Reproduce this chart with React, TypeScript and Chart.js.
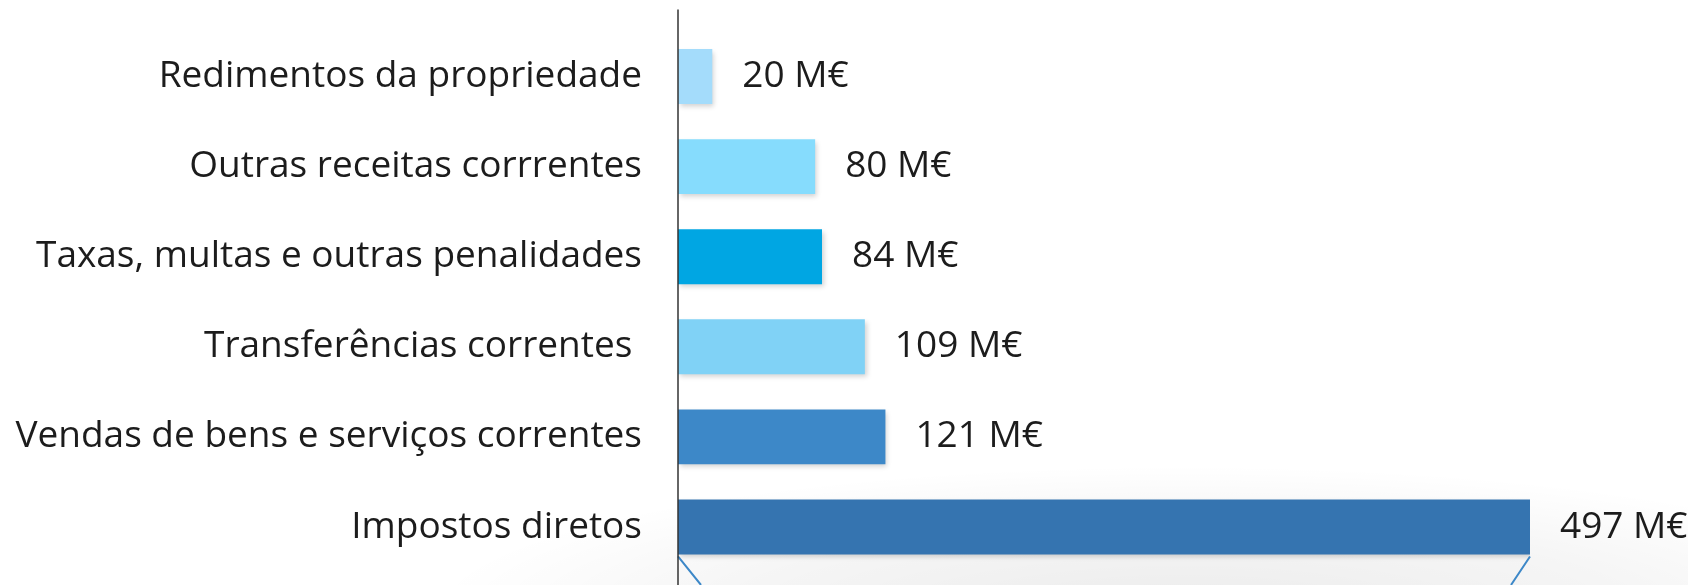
import React, { useEffect, useRef } from "react";
import { Chart, registerables } from "chart.js";

Chart.register(...registerables);

const categories = [
  "Redimentos da propriedade",
  "Outras receitas corrrentes",
  "Taxas, multas e outras penalidades",
  "Transferências correntes ",
  "Vendas de bens e serviços correntes",
  "Impostos diretos",
];
const values = [20, 80, 84, 109, 121, 497];
const valueLabels = ["20 M€", "80 M€", "84 M€", "109 M€", "121 M€", "497 M€"];
const barColors = ["#A4DCFB", "#86DCFD", "#00A6E3", "#80D2F6", "#3D88C8", "#3574B0"];

const FONT_FAMILY = "'Open Sans', sans-serif";
const FONT_SIZE = 37;
const TEXT_COLOR = "#1c1c1c";

const backgroundPlugin = {
  id: "bg",
  beforeDraw(chart: any) {
    const { ctx, width, height, chartArea } = chart;
    ctx.save();
    ctx.fillStyle = "#ffffff";
    ctx.fillRect(0, 0, width, height);
    const cx = (chartArea.left + width) / 2;
    const cy = height + 30;
    const rx = (width - chartArea.left) * 0.75;
    const ry = 150;
    ctx.translate(cx, cy);
    ctx.scale(rx / ry, 1);
    const g = ctx.createRadialGradient(0, 0, 0, 0, 0, ry);
    g.addColorStop(0, "rgba(0,0,0,0.08)");
    g.addColorStop(0.6, "rgba(0,0,0,0.04)");
    g.addColorStop(1, "rgba(0,0,0,0)");
    ctx.fillStyle = g;
    ctx.fillRect(-ry, -ry, ry * 2, ry * 2);
    ctx.restore();
  },
};

const shadowPlugin = {
  id: "barShadow",
  beforeDatasetDraw(chart: any) {
    const ctx = chart.ctx;
    ctx.save();
    ctx.shadowColor = "rgba(0,0,0,0.18)";
    ctx.shadowBlur = 5;
    ctx.shadowOffsetX = 2;
    ctx.shadowOffsetY = 3;
  },
  afterDatasetDraw(chart: any) {
    chart.ctx.restore();
  },
};

const decorPlugin = {
  id: "decor",
  afterDatasetsDraw(chart: any) {
    const { ctx, chartArea, height } = chart;
    const meta = chart.getDatasetMeta(0);
    ctx.save();
    // value labels
    ctx.font = `${FONT_SIZE}px ${FONT_FAMILY}`;
    ctx.fillStyle = TEXT_COLOR;
    ctx.textAlign = "left";
    ctx.textBaseline = "middle";
    meta.data.forEach((el: any, i: number) => {
      ctx.fillText(valueLabels[i], el.x + 30, el.y);
    });
    // funnel lines below last bar
    const last = meta.data[meta.data.length - 1];
    const bottom = last.y + last.height / 2;
    ctx.strokeStyle = "#3D88C8";
    ctx.lineWidth = 2;
    ctx.beginPath();
    ctx.moveTo(last.base, bottom + 2);
    ctx.lineTo(last.base + 23, height);
    ctx.moveTo(last.x, bottom + 2);
    ctx.lineTo(last.x - 19, height);
    ctx.stroke();
    // axis line
    ctx.strokeStyle = "#333333";
    ctx.lineWidth = 1.5;
    ctx.beginPath();
    ctx.moveTo(chartArea.left, chartArea.top - 22);
    ctx.lineTo(chartArea.left, height);
    ctx.stroke();
    ctx.restore();
  },
};

export default function App() {
  const canvasRef = useRef<HTMLCanvasElement | null>(null);

  useEffect(() => {
    document.body.style.margin = "0";
    const canvas = canvasRef.current;
    if (!canvas) return;
    const chart = new Chart(canvas, {
      type: "bar",
      data: {
        labels: categories,
        datasets: [
          {
            data: values,
            backgroundColor: barColors,
            borderWidth: 0,
            barPercentage: 0.61,
            categoryPercentage: 1,
          },
        ],
      },
      options: {
        indexAxis: "y",
        responsive: false,
        animation: false,
        devicePixelRatio: 1,
        layout: { padding: { left: 0, right: 158, top: 31.5, bottom: 13 } },
        plugins: {
          legend: { display: false },
          tooltip: { enabled: false },
        },
        scales: {
          x: { display: false, min: 0, max: 497 },
          y: {
            position: "left",
            grid: { display: false, drawTicks: false },
            border: { display: false },
            ticks: {
              padding: 36,
              color: TEXT_COLOR,
              font: { family: FONT_FAMILY, size: FONT_SIZE },
            },
            afterFit(scale: any) {
              scale.width = 678;
              scale.paddingTop = 0;
              scale.paddingBottom = 0;
            },
          },
        },
      },
      plugins: [backgroundPlugin, shadowPlugin, decorPlugin],
    } as any);
    return () => chart.destroy();
  }, []);

  return (
    <div style={{ position: "absolute", left: 0, top: 0, width: 1688, height: 585 }}>
      <canvas ref={canvasRef} width={1688} height={585} />
    </div>
  );
}
